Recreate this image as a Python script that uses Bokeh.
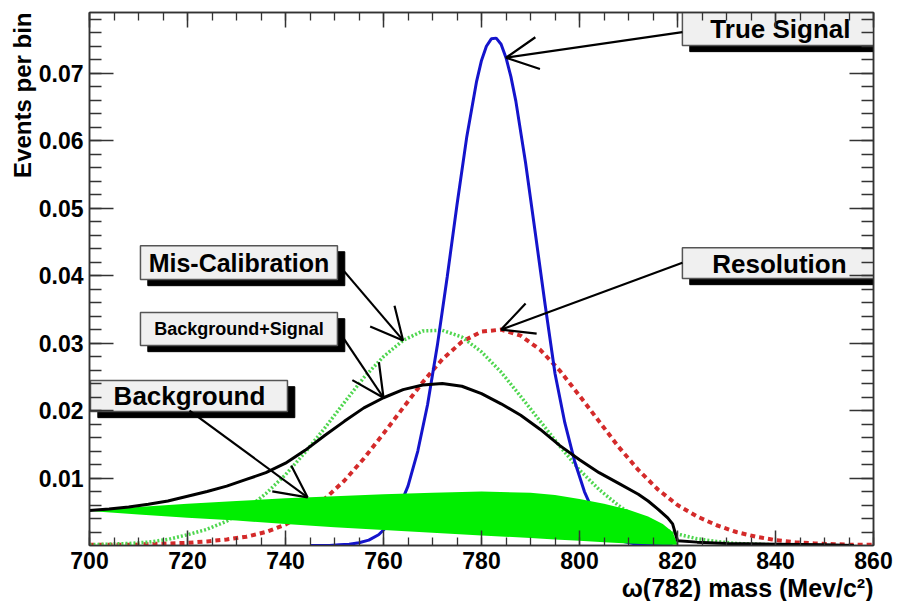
import numpy as np
from bokeh.plotting import figure
from bokeh.models import (Range1d, FixedTicker, LinearAxis, Label, BoxAnnotation,
                          Arrow, OpenHead, CustomJSTickFormatter, Title)
from bokeh.embed import file_html
from bokeh.resources import INLINE

# ---------------- data ----------------
x_ticks = [700, 720, 740, 760, 780, 800, 820, 840, 860]
y_ticks = [0.01, 0.02, 0.03, 0.04, 0.05, 0.06, 0.07]

# True signal (blue solid)
signal_x = [745, 747, 749, 751, 753, 755, 757, 759, 761, 763, 765, 767, 769, 771,
            773, 775, 777, 779, 780, 781, 782, 783, 784, 785, 786, 787, 789, 791,
            793, 795, 797, 799, 801, 803, 805, 807, 809, 811, 813, 815, 817, 819]
signal_y = [0.0000, 0.0000, 0.0000, 0.0001, 0.0002, 0.0004, 0.0008, 0.0016, 0.0030,
            0.0053, 0.0088, 0.0140, 0.0209, 0.0297, 0.0398, 0.0505, 0.0606, 0.0688,
            0.0719, 0.0740, 0.0751, 0.0752, 0.0743, 0.0723, 0.0695, 0.0659, 0.0567,
            0.0462, 0.0356, 0.0255, 0.0182, 0.0125, 0.0080, 0.0047, 0.0026, 0.0013,
            0.0006, 0.0003, 0.0001, 0.0001, 0.0000, 0.0000]

# Resolution (red dotted)
res_x = [700, 704, 708, 712, 716, 720, 724, 728, 732, 736, 740, 744, 748, 752, 756,
         760, 764, 768, 772, 776, 780, 784, 788, 792, 796, 800, 804, 808, 812, 816,
         820, 824, 828, 832, 836, 840, 844, 848, 852, 856, 860]
res_y = [0.0001, 0.0001, 0.0001, 0.0002, 0.0003, 0.0004, 0.0006, 0.0009, 0.0013,
         0.0020, 0.0031, 0.0047, 0.0069, 0.0096, 0.0129, 0.0166, 0.0204, 0.0242,
         0.0276, 0.0302, 0.0317, 0.0320, 0.0311, 0.0290, 0.0259, 0.0222, 0.0184,
         0.0146, 0.0112, 0.0083, 0.0060, 0.0043, 0.0030, 0.0020, 0.0013, 0.0008,
         0.0005, 0.0003, 0.0002, 0.0001, 0.0001]

# Mis-calibration (green dotted)
miscal_x = [700, 704, 708, 712, 716, 720, 724, 728, 732, 736, 740, 744, 748, 752,
            756, 760, 764, 768, 772, 776, 780, 784, 788, 792, 796, 800, 804, 808,
            812, 816, 820, 824, 828, 832, 836, 840]
miscal_y = [0.0001, 0.0002, 0.0003, 0.0005, 0.0009, 0.0016, 0.0024, 0.0036, 0.0054,
            0.0077, 0.0105, 0.0138, 0.0174, 0.0212, 0.0249, 0.0280, 0.0304, 0.0318,
            0.0319, 0.0309, 0.0287, 0.0257, 0.0221, 0.0184, 0.0147, 0.0112, 0.0083,
            0.0059, 0.0040, 0.0027, 0.0017, 0.0010, 0.0006, 0.0003, 0.0002, 0.0001]

# Background + Signal (black solid)
total_x = [700, 704, 708, 712, 716, 720, 724, 728, 732, 736, 740, 744, 748, 752,
           756, 760, 764, 768, 772, 776, 780, 784, 788, 792, 796, 800, 804, 808,
           812, 814, 816, 818, 819, 820, 824, 830, 840, 850, 856]
total_y = [0.0052, 0.0054, 0.0057, 0.0061, 0.0066, 0.0073, 0.0080, 0.0088, 0.0098,
           0.0108, 0.0122, 0.0141, 0.0163, 0.0184, 0.0204, 0.0219, 0.0231, 0.0238,
           0.0240, 0.0236, 0.0225, 0.0210, 0.0193, 0.0172, 0.0148, 0.0127, 0.0108,
           0.0092, 0.0076, 0.0066, 0.0054, 0.0041, 0.0032, 0.0007, 0.0005, 0.0003,
           0.0002, 0.0001, 0.0000]

# Background (green band)
bkg_x = [700, 710, 720, 730, 740, 750, 760, 770, 780, 790, 795, 800, 805, 810, 814,
         817, 819, 820]
bkg_upper = [0.0051, 0.0057, 0.0062, 0.0066, 0.0070, 0.0073, 0.0076, 0.0078, 0.0080,
             0.0078, 0.0075, 0.0069, 0.0062, 0.0053, 0.0043, 0.0032, 0.0020, 0.0002]
bkg_lower = [0.0051, 0.0046, 0.0041, 0.0037, 0.0032, 0.0027, 0.0023, 0.0019, 0.0015,
             0.0011, 0.0009, 0.0007, 0.0005, 0.0003, 0.0002, 0.0001, 0.0001, 0.0001]

# ---------------- figure ----------------
FONT = "Liberation Sans"

p = figure(frame_width=784, frame_height=533,
           x_range=Range1d(700, 860), y_range=Range1d(0, 0.079),
           output_backend="svg", toolbar_location=None,
           min_border_left=89, min_border_right=20, min_border_top=12,
           min_border_bottom=40)
p.grid.visible = False
p.outline_line_color = "#333333"
p.outline_line_width = 1.5
p.background_fill_color = "white"
p.border_fill_color = "white"

x_minor = list(range(700, 861, 5))
y_minor = [round(v, 3) for v in np.arange(0.002, 0.0785, 0.002)]
xt = FixedTicker(ticks=x_ticks, minor_ticks=x_minor)
yt = FixedTicker(ticks=y_ticks, minor_ticks=y_minor)


def style_axis(ax, major_in, minor_in):
    ax.major_tick_in = major_in
    ax.major_tick_out = 0
    ax.minor_tick_in = minor_in
    ax.minor_tick_out = 0
    ax.axis_line_color = "#333333"
    ax.axis_line_width = 1.5
    ax.major_tick_line_color = "#333333"
    ax.major_tick_line_width = 1.5
    ax.minor_tick_line_color = "#333333"
    ax.minor_tick_line_width = 1.3
    ax.major_label_text_font = FONT
    ax.major_label_text_font_style = "bold"
    ax.major_label_text_font_size = "23px"
    ax.major_label_text_color = "black"


xa = p.xaxis[0]
xa.ticker = xt
style_axis(xa, 15, 8)
xa.major_label_standoff = 6

ya = p.yaxis[0]
ya.ticker = yt
style_axis(ya, 24, 12)
ya.major_label_standoff = 6

blank = CustomJSTickFormatter(code="return '';")
top = LinearAxis(ticker=xt, formatter=blank)
style_axis(top, 15, 8)
top.major_label_text_font_size = "1px"
top.major_label_standoff = 0
p.add_layout(top, "above")

right = LinearAxis(ticker=yt, formatter=blank)
style_axis(right, 24, 12)
right.major_label_text_font_size = "1px"
right.major_label_standoff = 0
p.add_layout(right, "right")

# axis titles (ROOT style: at the end of the axes)
p.add_layout(Title(text="ω(782) mass (Mev/c²)", align="right", text_font=FONT,
                   text_font_style="bold", text_font_size="25px", text_color="black",
                   standoff=0, offset=0), "below")
p.add_layout(Title(text="Events per bin", align="right", text_font=FONT,
                   text_font_style="bold", text_font_size="24px", text_color="black",
                   standoff=0, offset=0), "left")

# ---------------- curves ----------------
p.line(res_x, res_y, line_color="#d42a2a", line_width=4, line_dash="5 4")
p.line(miscal_x, miscal_y, line_color="#4fd64f", line_width=3.5, line_dash="2 2")
p.line(signal_x, signal_y, line_color="#1414cc", line_width=3)
p.varea(x=bkg_x, y1=bkg_lower, y2=bkg_upper, fill_color="#00ee00")
p.line(total_x, total_y, line_color="black", line_width=3)

# ---------------- labelled boxes (positions in data units) ----------------
boxes = [
    # left, right, top, bottom, text, size, text-x, text-y
    (821.0, 861.0, 0.0790, 0.0741, "True Signal", "26px", 841.0, 0.0765),
    (821.0, 861.0, 0.04415, 0.03956, "Resolution", "26px", 840.8, 0.04178),
    (710.4, 750.6, 0.04444, 0.03941, "Mis-Calibration", "25px", 730.5, 0.04185),
    (710.4, 750.6, 0.03452, 0.02963, "Background+Signal", "18px", 730.5, 0.03205),
    (700.2, 740.4, 0.02444, 0.01985, "Background", "26px", 720.4, 0.02210),
]
dx, dy = 1.5, 0.0009
for (l, r, t, b, txt, fs, tx, ty) in boxes:
    p.add_layout(BoxAnnotation(left=l + dx, right=r + dx, top=t - dy, bottom=b - dy,
                               fill_color="black", fill_alpha=1.0, line_color="black",
                               line_alpha=1.0, level="glyph"))
    p.add_layout(BoxAnnotation(left=l, right=r, top=t, bottom=b,
                               fill_color="#f0f0f0", fill_alpha=1.0,
                               line_color="#555555", line_width=1.5, line_alpha=1.0,
                               level="glyph"))
    p.add_layout(Label(x=tx, y=ty, text=txt, text_align="center", text_baseline="middle",
                       text_font=FONT, text_font_style="bold", text_font_size=fs,
                       text_color="black", level="glyph"))

# ---------------- arrows (tips placed on the curves) ----------------
i = signal_x.index(785)
j = res_x.index(784)
k = miscal_x.index(764)
m = total_x.index(760)
bk_tip_x = 744.5
bk_tip_y = float(np.interp(bk_tip_x, bkg_x, bkg_upper))
arrows = [
    (821.0, 0.0761, signal_x[i], signal_y[i]),
    (821.0, 0.0419, res_x[j], res_y[j]),
    (751.2, 0.0413, miscal_x[k], miscal_y[k]),
    (751.2, 0.0314, total_x[m], total_y[m]),
    (720.4, 0.0200, bk_tip_x, bk_tip_y),
]
for (xs, ys, xe, ye) in arrows:
    p.add_layout(Arrow(x_start=xs, y_start=ys, x_end=xe, y_end=ye,
                       line_color="black", line_width=2.2,
                       end=OpenHead(size=32, line_color="black", line_width=2.2)))

open("out.html", "w").write(file_html(p, INLINE))
